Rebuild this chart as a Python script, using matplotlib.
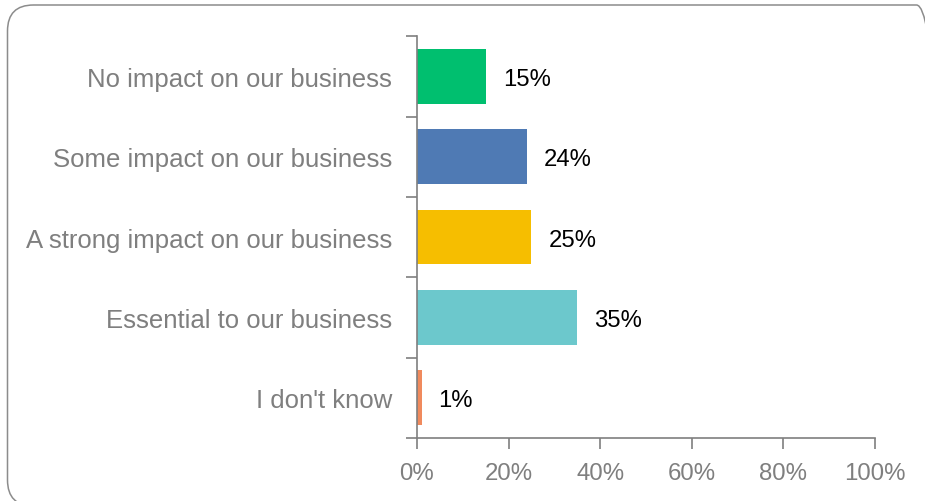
import matplotlib.pyplot as plt
from matplotlib.patches import FancyBboxPatch

categories = ["No impact on our business", "Some impact on our business",
              "A strong impact on our business", "Essential to our business",
              "I don't know"]
values = [15, 24, 25, 35, 1]
colors = ["#00BF6F", "#4F7AB4", "#F6BE00", "#6CC8CC", "#F08A5D"]
xticks = [0, 20, 40, 60, 80, 100]

plt.rcParams['font.family'] = ['Liberation Sans', 'DejaVu Sans']
grey = "#7F7F7F"

fig = plt.figure(figsize=(9.25, 5.02), dpi=100)
ax = fig.add_axes([0.4508, 0.1255, 0.4951, 0.8005])

ypos = list(range(len(categories)))
ax.barh(ypos, values, height=0.68, color=colors)
for y, v in zip(ypos, values):
    ax.text(v + 3.7, y, f"{v}%", va='center_baseline', ha='left', fontsize=17.2, color='black')

ax.set_xlim(0, 100)
ax.set_ylim(len(categories) - 0.5, -0.5)
ax.set_xticks(xticks)
ax.set_xticklabels([f"{t}%" for t in xticks])
ax.set_yticks(ypos)
ax.set_yticklabels(categories)
ax.set_yticks([i - 0.5 for i in range(len(categories) + 1)], minor=True)
ax.tick_params(axis='y', which='major', length=0, pad=18, labelsize=18.5, labelcolor=grey)
ax.tick_params(axis='y', which='minor', length=8, color=grey, width=1.2)
ax.tick_params(axis='x', length=8, color=grey, width=1.2, pad=9, labelsize=17.3, labelcolor=grey)

for s in ['top', 'right']:
    ax.spines[s].set_visible(False)
for s in ['left', 'bottom']:
    ax.spines[s].set_color(grey)
    ax.spines[s].set_linewidth(1.2)

# rounded frame around the whole chart
frame = FancyBboxPatch((7.5, -5), 935, 501, boxstyle="round,pad=0,rounding_size=26",
                       transform=None, fill=False, edgecolor="#8C8C8C", linewidth=1.1)
fig.patches.append(frame)

fig.savefig("out.png", dpi=100)
